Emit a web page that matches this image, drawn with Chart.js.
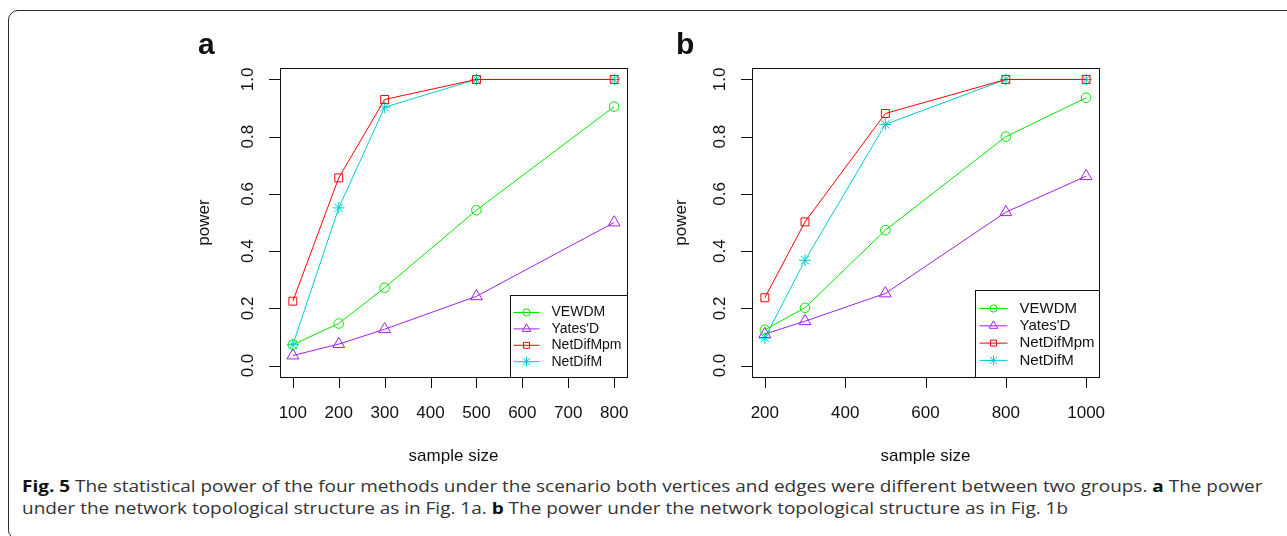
<!DOCTYPE html>
<html>
<head>
<meta charset="utf-8">
<script src="https://cdn.jsdelivr.net/npm/chart.js@4"></script>
<style>
  html, body { margin: 0; padding: 0; background: #fff; }
  body { width: 1287px; height: 536px; position: relative; overflow: hidden; }
  #frame { position: absolute; left: 8px; top: 10px; width: 1310px; height: 528px;
           border: 1.5px solid #2a2a2a; border-radius: 10px; }
  canvas { position: absolute; }
  #chartA { left: 180px; top: 20px; }
  #chartB { left: 660px; top: 20px; }
  #caption { position: absolute; left: 22px; top: 475px; font-family: "Open Sans", sans-serif;
             font-size: 16px; line-height: 22px; color: #333; white-space: nowrap;
             transform-origin: 0 0; }
  #caption b { color: #111; }
</style>
</head>
<body>
<div id="frame"></div>
<canvas id="chartA" width="470" height="450"></canvas>
<canvas id="chartB" width="470" height="450"></canvas>
<div id="caption">
  <div id="capLine1"><b>Fig. 5</b> The statistical power of the four methods under the scenario both vertices and edges were different between two groups. <b>a</b> The power</div>
  <div>under the network topological structure as in Fig. 1a. <b>b</b> The power under the network topological structure as in Fig. 1b</div>
</div>
<script>
// series names and colours
var seriesNames = ['VEWDM', "Yates'D", 'NetDifMpm', 'NetDifM'];
var seriesColors = ['#00e600', '#a020f0', '#ff0000', '#00cdcd'];

// panel a
var sizesA = [100, 200, 300, 500, 800];
var vewdmA = [0.073, 0.147, 0.272, 0.543, 0.905];
var yatesA = [0.035, 0.075, 0.127, 0.242, 0.5];
var netDifMpmA = [0.225, 0.656, 0.93, 1.0, 1.0];
var netDifMA = [0.073, 0.551, 0.903, 1.0, 1.0];
var xTicksA = [100, 200, 300, 400, 500, 600, 700, 800];

// panel b
var sizesB = [200, 300, 500, 800, 1000];
var vewdmB = [0.125, 0.202, 0.473, 0.8, 0.936];
var yatesB = [0.11, 0.155, 0.252, 0.536, 0.662];
var netDifMpmB = [0.237, 0.502, 0.881, 1.0, 1.0];
var netDifMB = [0.096, 0.368, 0.843, 1.0, 1.0];
var xTicksB = [200, 400, 600, 800, 1000];

var yTicks = [0.0, 0.2, 0.4, 0.6, 0.8, 1.0];

var pointStyles = ['circle', 'triangle', 'rect', 'star'];
var pointRadii = [4.8, 6.8, 5.6, 6];
var legendRadii = [3.6, 5, 4.2, 5];
var FONT = '"Liberation Sans", Arial, sans-serif';

// R style box, axes, labels and legend
var rPlot = {
    id: 'rPlot',
    afterDraw: function (chart, args, o) {
        var ctx = chart.ctx, a = chart.chartArea;
        var xs = chart.scales.x, ys = chart.scales.y;
        ctx.save();
        ctx.strokeStyle = '#111';
        ctx.lineWidth = 1;
        ctx.strokeRect(Math.round(a.left) + 0.5, Math.round(a.top) + 0.5,
            Math.round(a.right - a.left), Math.round(a.bottom - a.top));

        // ticks
        ctx.beginPath();
        o.xTicks.forEach(function (v) {
            var px = Math.round(xs.getPixelForValue(v)) + 0.5;
            ctx.moveTo(px, a.bottom);
            ctx.lineTo(px, a.bottom + 11);
        });
        yTicks.forEach(function (v) {
            var py = Math.round(ys.getPixelForValue(v)) + 0.5;
            ctx.moveTo(a.left, py);
            ctx.lineTo(a.left - 11, py);
        });
        ctx.stroke();

        // tick labels
        ctx.fillStyle = '#111';
        ctx.font = '17px ' + FONT;
        ctx.textAlign = 'center';
        ctx.textBaseline = 'middle';
        o.xTicks.forEach(function (v) {
            ctx.fillText(String(v), xs.getPixelForValue(v), a.bottom + 36);
        });
        yTicks.forEach(function (v) {
            ctx.save();
            ctx.translate(a.left - 32, ys.getPixelForValue(v));
            ctx.rotate(-Math.PI / 2);
            ctx.fillText(v.toFixed(1), 0, 0);
            ctx.restore();
        });

        // axis titles
        ctx.fillText('sample size', (a.left + a.right) / 2, a.bottom + 79);
        ctx.save();
        ctx.translate(a.left - o.yTitleOffset, (a.top + a.bottom) / 2);
        ctx.rotate(-Math.PI / 2);
        ctx.fillText('power', 0, 0);
        ctx.restore();

        // panel letter
        ctx.font = 'bold 30px ' + FONT;
        ctx.textAlign = 'left';
        ctx.textBaseline = 'alphabetic';
        ctx.fillText(o.letter, a.left + o.letterOffset, 54 - 20);

        // legend
        var L = o.legend;
        var lx = Math.round(a.right - L.width) + 0.5, ly = Math.round(a.bottom - L.height) + 0.5;
        ctx.fillStyle = '#fff';
        ctx.fillRect(lx, ly, L.width, L.height);
        ctx.strokeStyle = '#111';
        ctx.strokeRect(lx, ly, L.width, L.height);
        ctx.font = L.fontSize + 'px ' + FONT;
        ctx.textBaseline = 'middle';
        seriesNames.forEach(function (name, i) {
            var ry = ly + L.firstRow + i * L.rowGap;
            ctx.strokeStyle = seriesColors[i];
            ctx.beginPath();
            ctx.moveTo(lx + L.lineStart, ry);
            ctx.lineTo(lx + L.lineEnd, ry);
            ctx.stroke();
            ctx.fillStyle = 'rgba(0,0,0,0)';
            Chart.helpers.drawPoint(ctx, {
                pointStyle: pointStyles[i], radius: legendRadii[i], borderWidth: 1, rotation: 0
            }, lx + (L.lineStart + L.lineEnd) / 2, ry);
            ctx.fillStyle = '#111';
            ctx.fillText(name, lx + L.textX, ry);
        });
        ctx.restore();
    }
};

function makeDatasets(xs, series) {
    return series.map(function (vals, i) {
        return {
            label: seriesNames[i],
            data: xs.map(function (x, j) { return { x: x, y: vals[j] }; }),
            borderColor: seriesColors[i],
            borderWidth: 1,
            pointStyle: pointStyles[i],
            pointRadius: pointRadii[i],
            pointBorderWidth: 1,
            pointBorderColor: seriesColors[i],
            pointBackgroundColor: 'rgba(0,0,0,0)',
            fill: false,
            tension: 0
        };
    });
}

function makeChart(id, xs, series, xMin, xMax, xTicks, padding, extra) {
    return new Chart(document.getElementById(id).getContext('2d'), {
        type: 'line',
        data: { datasets: makeDatasets(xs, series) },
        options: {
            responsive: false,
            animation: false,
            layout: { padding: padding },
            plugins: {
                legend: { display: false },
                tooltip: { enabled: false },
                rPlot: Object.assign({ xTicks: xTicks }, extra)
            },
            scales: {
                x: { type: 'linear', min: xMin, max: xMax, display: false },
                y: { type: 'linear', min: -0.04, max: 1.04, display: false }
            }
        },
        plugins: [rPlot]
    });
}

makeChart('chartA', sizesA, [vewdmA, yatesA, netDifMpmA, netDifMA], 72, 828, xTicksA,
    { left: 100, right: 23, top: 48, bottom: 93 },
    { letter: 'a', letterOffset: -82, yTitleOffset: 76,
      legend: { width: 117, height: 82, firstRow: 17, rowGap: 16.4, lineStart: 3, lineEnd: 29, textX: 41, fontSize: 14 } });

makeChart('chartB', sizesB, [vewdmB, yatesB, netDifMpmB, netDifMB], 168, 1032, xTicksB,
    { left: 92, right: 31, top: 48, bottom: 93 },
    { letter: 'b', letterOffset: -76, yTitleOffset: 71,
      legend: { width: 124, height: 87, firstRow: 18, rowGap: 17.3, lineStart: 4, lineEnd: 32, textX: 44, fontSize: 15 } });

// squeeze the caption to the width of the original typesetting
var cap = document.getElementById('caption');
var w = document.getElementById('capLine1').scrollWidth;
cap.style.transform = 'scaleX(' + (1241 / w) + ')';
</script>
</body>
</html>
